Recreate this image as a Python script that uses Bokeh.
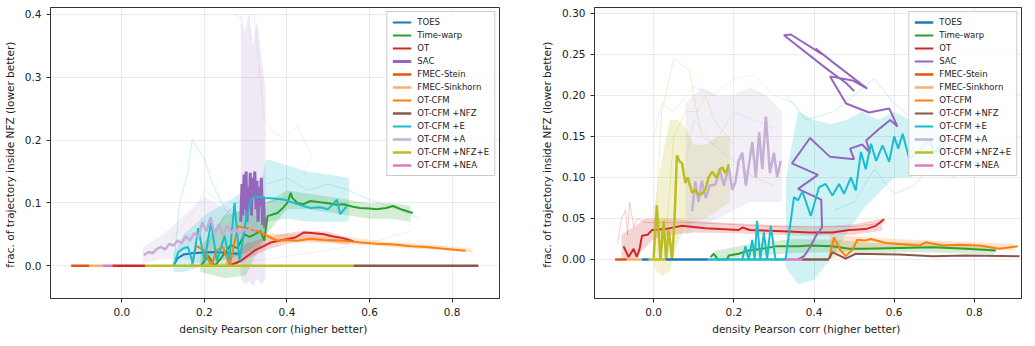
from bokeh.plotting import figure
from bokeh.layouts import row
from bokeh.models import Legend, LegendItem, FixedTicker, NumeralTickFormatter, Range1d
from bokeh.embed import file_html
from bokeh.resources import INLINE

# ---------------- series names / colours ----------------
methods = ["TOES", "Time-warp", "OT", "SAC", "FMEC-Stein", "FMEC-Sinkhorn", "OT-CFM",
           "OT-CFM +NFZ", "OT-CFM +E", "OT-CFM +A", "OT-CFM +NFZ+E", "OT-CFM +NEA"]
colors = {"TOES": "#1f77b4", "Time-warp": "#2ca02c", "OT": "#d62728", "SAC": "#9467bd",
          "FMEC-Stein": "#e6550d", "FMEC-Sinkhorn": "#fdae6b", "OT-CFM": "#ff7f0e",
          "OT-CFM +NFZ": "#8c564b", "OT-CFM +E": "#17becf", "OT-CFM +A": "#c5b0d5",
          "OT-CFM +NFZ+E": "#bcbd22", "OT-CFM +NEA": "#e377c2"}

x_ticks = [0.0, 0.2, 0.4, 0.6, 0.8]
left_y_ticks = [0.0, 0.1, 0.2, 0.3, 0.4]
right_y_ticks = [0.0, 0.05, 0.10, 0.15, 0.20, 0.25, 0.30]
x_label = "density Pearson corr  (higher better)"
y_label = "frac. of trajectory inside NFZ  (lower better)"

# ---------------- LEFT panel data ----------------
# zero-valued runs (start corr, end corr)
L_zero = {"FMEC-Stein": (-0.123, -0.079), "FMEC-Sinkhorn": (-0.079, -0.047),
          "OT-CFM +NEA": (-0.047, -0.023), "OT": (-0.023, 0.057),
          "OT-CFM +NFZ+E": (0.057, 0.561), "OT-CFM +NFZ": (0.561, 0.864)}

L_toes_x = [0.125, 0.135, 0.15, 0.17, 0.2, 0.23, 0.26, 0.281]
L_toes_y = [0.0, 0.012, 0.018, 0.020, 0.021, 0.022, 0.020, 0.019]

L_tw_x = [0.192, 0.209, 0.225, 0.24, 0.264, 0.28, 0.297, 0.31, 0.336, 0.345, 0.353, 0.377, 0.39,
          0.401, 0.409, 0.413, 0.425, 0.44, 0.457, 0.48, 0.497, 0.52, 0.537, 0.56, 0.577, 0.6,
          0.617, 0.64, 0.657, 0.68, 0.705]
L_tw_y = [0.0, 0.016, 0.0, 0.012, 0.033, 0.028, 0.05, 0.046, 0.055, 0.04, 0.079, 0.084, 0.092,
          0.100, 0.116, 0.108, 0.100, 0.098, 0.103, 0.101, 0.100, 0.097, 0.098, 0.094, 0.092, 0.091,
          0.090, 0.092, 0.095, 0.089, 0.084]

L_ot_x = [0.257, 0.275, 0.289, 0.305, 0.321, 0.34, 0.36, 0.39, 0.42, 0.441, 0.46, 0.489, 0.51, 0.535, 0.561]
L_ot_y = [0.0, 0.004, 0.008, 0.016, 0.024, 0.03, 0.037, 0.041, 0.045, 0.053, 0.052, 0.050, 0.047, 0.044, 0.039]

L_sac_x = [0.288, 0.291, 0.293, 0.296, 0.298, 0.301, 0.303, 0.306, 0.309, 0.311, 0.314, 0.317,
           0.319, 0.322, 0.325, 0.327, 0.330, 0.333, 0.335, 0.338, 0.341, 0.343, 0.346]
L_sac_y = [0.07, 0.13, 0.08, 0.145, 0.09, 0.15, 0.07, 0.125, 0.10, 0.148, 0.08, 0.14, 0.11, 0.15,
           0.09, 0.135, 0.07, 0.125, 0.095, 0.14, 0.065, 0.11, 0.06]

L_cfm_x = [0.169, 0.18, 0.19, 0.2, 0.216, 0.23, 0.245, 0.261, 0.281, 0.3, 0.329, 0.345, 0.36,
           0.377, 0.4, 0.425, 0.456, 0.49, 0.537, 0.58, 0.617, 0.66, 0.7, 0.737, 0.78, 0.833]
L_cfm_y = [0.0, 0.032, 0.028, 0.025, 0.0, 0.025, 0.03, 0.0, 0.063, 0.06, 0.055, 0.05, 0.045,
           0.040, 0.041, 0.040, 0.043, 0.041, 0.040, 0.037, 0.035, 0.034, 0.031, 0.030, 0.027, 0.024]

L_e_x = [0.125, 0.137, 0.15, 0.16, 0.172, 0.185, 0.2, 0.216, 0.23, 0.249, 0.26, 0.273, 0.285,
         0.3, 0.313, 0.321, 0.345, 0.37, 0.393, 0.417, 0.44, 0.457, 0.48, 0.5, 0.521, 0.529, 0.545]
L_e_y = [0.0, 0.022, 0.028, 0.03, 0.004, 0.06, 0.008, 0.069, 0.008, 0.048, 0.008, 0.10, 0.008,
         0.07, 0.105, 0.11, 0.108, 0.107, 0.105, 0.10, 0.095, 0.092, 0.093, 0.09, 0.105, 0.082, 0.095]

L_a_x = [0.053, 0.065, 0.075, 0.085, 0.095, 0.105, 0.115, 0.125, 0.135, 0.145, 0.155, 0.165, 0.175,
         0.185, 0.195, 0.205, 0.215, 0.225, 0.235, 0.245, 0.255, 0.265, 0.275, 0.285, 0.295, 0.305,
         0.315, 0.325]
L_a_y = [0.017, 0.022, 0.020, 0.027, 0.030, 0.026, 0.035, 0.032, 0.040, 0.036, 0.047, 0.040, 0.052,
         0.045, 0.069, 0.055, 0.077, 0.050, 0.066, 0.048, 0.065, 0.052, 0.060, 0.050, 0.058, 0.054,
         0.062, 0.057]

# bands (x, lower, upper)
L_bands = {
    "OT-CFM +A": ([0.05, 0.1, 0.15, 0.2, 0.25, 0.3, 0.35],
                  [0.005, 0.01, 0.012, 0.0, 0.01, 0.02, 0.03],
                  [0.03, 0.05, 0.08, 0.11, 0.09, 0.085, 0.075]),
    "SAC": ([0.288, 0.298, 0.308, 0.318, 0.328, 0.338, 0.348],
            [-0.02, -0.03, -0.025, -0.032, -0.02, -0.03, -0.02],
            [0.40, 0.37, 0.40, 0.35, 0.39, 0.33, 0.28]),
    "OT-CFM +E": ([0.125, 0.15, 0.2, 0.25, 0.3, 0.34, 0.35, 0.4, 0.45, 0.5, 0.55],
                  [-0.01, -0.01, 0.0, 0.01, 0.02, 0.04, 0.07, 0.075, 0.07, 0.07, 0.07],
                  [0.02, 0.05, 0.08, 0.10, 0.12, 0.14, 0.17, 0.16, 0.15, 0.145, 0.14]),
    "Time-warp": ([0.19, 0.25, 0.3, 0.35, 0.4, 0.45, 0.5, 0.55, 0.6, 0.65, 0.7],
                  [-0.01, -0.02, -0.015, 0.05, 0.09, 0.09, 0.085, 0.08, 0.075, 0.075, 0.07],
                  [0.03, 0.08, 0.09, 0.10, 0.12, 0.115, 0.11, 0.105, 0.10, 0.10, 0.095]),
    "OT": ([0.25, 0.3, 0.35, 0.4, 0.45, 0.5, 0.55],
           [0.0, 0.01, 0.025, 0.035, 0.04, 0.038, 0.033],
           [0.005, 0.035, 0.045, 0.052, 0.056, 0.054, 0.045]),
    "OT-CFM": ([0.35, 0.45, 0.55, 0.65, 0.75, 0.85],
               [0.04, 0.037, 0.035, 0.03, 0.026, 0.021],
               [0.052, 0.048, 0.045, 0.038, 0.034, 0.027]),
}

# faint individual runs
L_faint = [
    ("OT-CFM +A", [0.27, 0.29, 0.30, 0.32, 0.335, 0.345, 0.37, 0.393, 0.425, 0.449, 0.461, 0.441],
                  [0.40, 0.395, 0.39, 0.40, 0.30, 0.232, 0.21, 0.204, 0.222, 0.19, 0.174, 0.143]),
    ("OT-CFM +A", [0.2, 0.35, 0.5, 0.62, 0.7], [0.0, 0.01, 0.025, 0.04, 0.055]),
    ("OT-CFM +A", [0.1, 0.14, 0.18, 0.2, 0.24, 0.28, 0.3], [0.02, 0.06, 0.09, 0.12, 0.1, 0.08, 0.06]),
    ("OT-CFM +E", [0.125, 0.14, 0.16, 0.17, 0.2, 0.22, 0.25, 0.28],
                  [0.0, 0.1, 0.15, 0.2, 0.17, 0.13, 0.09, 0.07]),
    ("OT-CFM +E", [0.35, 0.4, 0.45, 0.5, 0.55, 0.6, 0.67, 0.72],
                  [0.13, 0.14, 0.12, 0.13, 0.12, 0.105, 0.09, 0.075]),
    ("Time-warp", [0.19, 0.22, 0.25, 0.3, 0.35, 0.4], [0.0, 0.05, 0.08, 0.115, 0.10, 0.11]),
]

# ---------------- RIGHT panel data ----------------
R_zero = {"FMEC-Stein": (-0.096, -0.067), "FMEC-Sinkhorn": (-0.067, -0.029),
          "TOES": (-0.029, -0.012), "OT-CFM +NFZ+E": (-0.012, 0.03),
          "TOES ": (0.03, 0.137), "OT-CFM +E": (0.137, 0.33),
          "OT-CFM +NEA": (0.33, 0.371), "OT-CFM +NFZ": (0.371, 0.4375)}

R_tw_x = [0.142, 0.15, 0.16, 0.183, 0.1875, 0.2125, 0.2375, 0.271, 0.304, 0.3625, 0.3875, 0.446,
          0.4875, 0.53, 0.6125, 0.696, 0.779, 0.854]
R_tw_y = [0.003, 0.007, 0.0, 0.0, 0.005, 0.007, 0.011, 0.013, 0.016, 0.016, 0.017, 0.016,
          0.013, 0.013, 0.014, 0.015, 0.013, 0.011]

R_ot_x = [-0.075, -0.0625, -0.05, -0.042, -0.035, -0.029, -0.015, -0.004, 0.029, 0.071, 0.129,
          0.2125, 0.221, 0.24, 0.3375, 0.3875, 0.446, 0.4875, 0.529, 0.554, 0.575]
R_ot_y = [0.016, 0.003, 0.013, 0.003, 0.013, 0.029, 0.030, 0.036, 0.037, 0.041, 0.038,
          0.036, 0.039, 0.036, 0.034, 0.033, 0.033, 0.036, 0.037, 0.041, 0.049]

R_sac_x = [0.36, 0.375, 0.39, 0.405, 0.42, 0.418, 0.36, 0.41, 0.345, 0.39, 0.44, 0.50, 0.49,
           0.52, 0.54, 0.53, 0.565, 0.59, 0.608, 0.5875, 0.5375, 0.48, 0.44, 0.496, 0.533,
           0.445, 0.404, 0.42, 0.342, 0.325, 0.4375, 0.48, 0.50]
R_sac_y = [0.0, 0.004, 0.015, 0.029, 0.039, 0.073, 0.086, 0.103, 0.117, 0.148, 0.125, 0.122,
           0.135, 0.14, 0.13, 0.145, 0.16, 0.17, 0.162, 0.184, 0.179, 0.19, 0.223, 0.218, 0.208,
           0.241, 0.257, 0.25, 0.274, 0.273, 0.23, 0.215, 0.205]

R_cfm_x = [0.4375, 0.45, 0.465, 0.479, 0.496, 0.508, 0.525, 0.542, 0.579, 0.6125, 0.6625, 0.679,
           0.721, 0.76, 0.8125, 0.8625, 0.908]
R_cfm_y = [0.001, 0.027, 0.012, 0.004, 0.012, 0.024, 0.023, 0.025, 0.020, 0.019, 0.017, 0.021,
           0.017, 0.018, 0.017, 0.013, 0.016]

R_nfz_x = [0.4375, 0.446, 0.479, 0.504, 0.6125, 0.696, 0.779, 0.9125]
R_nfz_y = [0.001, 0.009, 0.001, 0.007, 0.006, 0.004, 0.005, 0.004]

R_e_x = [0.221, 0.229, 0.237, 0.246, 0.252, 0.258, 0.266, 0.275, 0.283, 0.292, 0.304, 0.329,
         0.35, 0.36, 0.371, 0.392, 0.4125, 0.429, 0.446, 0.4625, 0.475, 0.492, 0.504, 0.517,
         0.529, 0.542, 0.555, 0.571, 0.5875, 0.6, 0.61, 0.621, 0.6375, 0.6625, 0.675, 0.6875,
         0.70, 0.715, 0.73]
R_e_y = [0.0, 0.016, 0.0, 0.024, 0.0, 0.047, 0.0, 0.033, 0.0, 0.041, 0.0, 0.0,
         0.076, 0.072, 0.083, 0.053, 0.088, 0.092, 0.078, 0.092, 0.08, 0.10, 0.084, 0.131,
         0.11, 0.141, 0.12, 0.139, 0.119, 0.15, 0.135, 0.153, 0.123, 0.131, 0.14, 0.146,
         0.13, 0.138, 0.142]

R_a_x = [0.096, 0.104, 0.112, 0.12, 0.13, 0.14, 0.154, 0.165, 0.175, 0.1875, 0.196, 0.204, 0.212,
         0.221, 0.23, 0.246, 0.255, 0.263, 0.271, 0.28, 0.29, 0.30, 0.308, 0.317]
R_a_y = [0.059, 0.095, 0.07, 0.096, 0.075, 0.09, 0.091, 0.11, 0.09, 0.112, 0.085, 0.094, 0.12,
         0.13, 0.09, 0.143, 0.1, 0.155, 0.11, 0.174, 0.105, 0.13, 0.10, 0.12]

R_nfze_x = [0.0, 0.008, 0.017, 0.025, 0.031, 0.0375, 0.046, 0.052, 0.058, 0.064, 0.071, 0.079,
            0.085, 0.096, 0.104, 0.1125, 0.12, 0.129, 0.137, 0.146, 0.158, 0.165, 0.171, 0.18, 0.1875]
R_nfze_y = [0.002, 0.066, 0.0, 0.047, 0.0, 0.036, 0.0, 0.047, 0.127, 0.12, 0.117, 0.093,
            0.1, 0.081, 0.085, 0.078, 0.08, 0.085, 0.1, 0.107, 0.099, 0.11, 0.112, 0.105, 0.116]

R_bands = {
    "OT": ([-0.08, -0.05, -0.02, 0.0, 0.05, 0.1, 0.2, 0.3, 0.4, 0.5, 0.57],
           [0.0, 0.0, 0.015, 0.025, 0.03, 0.033, 0.032, 0.03, 0.029, 0.03, 0.035],
           [0.03, 0.04, 0.05, 0.05, 0.05, 0.047, 0.044, 0.042, 0.04, 0.043, 0.05]),
    "OT-CFM +NFZ+E": ([0.0, 0.02, 0.04, 0.06, 0.08, 0.1, 0.13, 0.16, 0.19],
                      [-0.01, -0.02, -0.015, 0.02, 0.04, 0.045, 0.05, 0.06, 0.07],
                      [0.06, 0.12, 0.17, 0.17, 0.16, 0.14, 0.14, 0.15, 0.15]),
    "OT-CFM +A": ([0.08, 0.12, 0.16, 0.2, 0.24, 0.28, 0.32],
                  [0.03, 0.04, 0.05, 0.06, 0.07, 0.07, 0.07],
                  [0.19, 0.21, 0.20, 0.20, 0.21, 0.20, 0.18]),
    "OT-CFM +E": ([0.33, 0.36, 0.4, 0.44, 0.48, 0.52, 0.56, 0.6, 0.64, 0.68, 0.72],
                  [-0.01, -0.03, -0.025, 0.0, 0.03, 0.06, 0.08, 0.10, 0.10, 0.11, 0.11],
                  [0.10, 0.18, 0.17, 0.165, 0.17, 0.18, 0.17, 0.18, 0.17, 0.165, 0.16]),
    "Time-warp": ([0.15, 0.25, 0.35, 0.45, 0.55, 0.65, 0.75, 0.85],
                  [0.0, 0.004, 0.008, 0.009, 0.008, 0.009, 0.008, 0.006],
                  [0.01, 0.02, 0.025, 0.024, 0.02, 0.021, 0.019, 0.016]),
    "OT-CFM": ([0.44, 0.5, 0.6, 0.7, 0.8, 0.9],
               [0.0, 0.012, 0.015, 0.014, 0.013, 0.011],
               [0.03, 0.028, 0.025, 0.023, 0.021, 0.019]),
}

R_faint = [
    ("OT", [-0.09, -0.08, -0.07, -0.065, -0.06, -0.05, -0.04, -0.02, 0.1, 0.3, 0.5, 0.58],
           [0.02, 0.05, 0.06, 0.03, 0.07, 0.04, 0.05, 0.045, 0.045, 0.04, 0.04, 0.045]),
    ("OT-CFM +NFZ+E", [0.0, 0.02, 0.03, 0.05, 0.09, 0.1, 0.12, 0.15, 0.2, 0.25, 0.3],
                      [0.0, 0.18, 0.2, 0.245, 0.23, 0.2, 0.15, 0.14, 0.12, 0.10, 0.09]),
    ("OT-CFM +NFZ+E", [0.03, 0.05, 0.08, 0.11, 0.13, 0.15, 0.2],
                      [0.02, 0.15, 0.18, 0.18, 0.2, 0.17, 0.14]),
    ("OT-CFM +A", [0.0, 0.02, 0.05, 0.1, 0.15, 0.2, 0.25, 0.3, 0.35, 0.4],
                  [0.15, 0.19, 0.18, 0.21, 0.20, 0.22, 0.225, 0.20, 0.19, 0.16]),
    ("OT-CFM +A", [0.08, 0.1, 0.15, 0.2, 0.25, 0.3], [0.12, 0.17, 0.14, 0.18, 0.17, 0.16]),
    ("OT-CFM +E", [0.33, 0.38, 0.45, 0.5, 0.55, 0.6, 0.65, 0.7, 0.75],
                  [0.20, 0.17, 0.18, 0.20, 0.22, 0.19, 0.17, 0.15, 0.14]),
    ("OT-CFM +E", [0.45, 0.5, 0.55, 0.6, 0.65, 0.7, 0.75, 0.8],
                  [0.06, 0.07, 0.11, 0.08, 0.09, 0.12, 0.10, 0.14]),
]

FONT = "DejaVu Sans"


def make_fig(width, border_left, border_right, xr, yr, yticks, yfmt):
    p = figure(width=width, height=337, output_backend="svg", toolbar_location=None,
               x_range=Range1d(*xr), y_range=Range1d(*yr),
               min_border_left=border_left, min_border_right=border_right,
               min_border_top=7, min_border_bottom=38)
    p.xaxis.ticker = FixedTicker(ticks=x_ticks)
    p.yaxis.ticker = FixedTicker(ticks=yticks)
    p.xaxis.formatter = NumeralTickFormatter(format="0.0")
    p.yaxis.formatter = NumeralTickFormatter(format=yfmt)
    for ax in (p.xaxis[0], p.yaxis[0]):
        ax.axis_line_color = "#333333"
        ax.major_tick_line_color = "#333333"
        ax.major_tick_out = 4
        ax.major_tick_in = 0
        ax.minor_tick_line_color = None
        ax.major_label_text_font = FONT
        ax.major_label_text_font_size = "10.5px"
        ax.major_label_text_color = "#222222"
        ax.axis_label_text_font = FONT
        ax.axis_label_text_font_size = "10.5px"
        ax.axis_label_text_font_style = "normal"
        ax.axis_label_text_color = "#222222"
    p.xaxis.axis_label = x_label
    p.yaxis.axis_label = y_label
    p.xaxis.axis_label_standoff = 4
    p.yaxis.axis_label_standoff = 6
    p.outline_line_color = "#333333"
    p.outline_line_width = 1
    p.grid.grid_line_color = "#b0b0b0"
    p.grid.grid_line_alpha = 0.3
    p.grid.grid_line_width = 0.8
    p.background_fill_color = "white"
    return p


def draw(p, bands, faint, zero_runs, mains):
    for name, (bx, lo, hi) in bands.items():
        a = 0.15 if name == "SAC" else 0.2
        p.varea(x=bx, y1=lo, y2=hi, fill_color=colors[name], fill_alpha=a)
    for name, fx, fy in faint:
        p.line(fx, fy, line_color=colors[name], line_alpha=0.3, line_width=0.8)
    rend = {}
    for name in methods:
        if name in mains:
            mx, my, lw = mains[name]
            rend[name] = p.line(mx, my, line_color=colors[name], line_width=lw)
    for key, (a, b) in zero_runs.items():
        name = key.strip()
        r = p.line([a, b], [0.0, 0.0], line_color=colors[name], line_width=2.5)
        rend.setdefault(name, r)
    items = [LegendItem(label=m, renderers=[rend[m]]) for m in methods if m in rend]
    leg = Legend(items=items, location="top_right", label_text_font=FONT,
                 label_text_font_size="8.5px", label_text_color="#222222",
                 glyph_width=19, glyph_height=10, label_height=10, spacing=3,
                 padding=5, margin=4, label_standoff=6,
                 border_line_color="#cccccc", border_line_alpha=1.0,
                 background_fill_alpha=0.85)
    p.add_layout(leg)


p1 = make_fig(518, 46, 19, (-0.173, 0.915), (-0.052, 0.4107), left_y_ticks, "0.0")
draw(p1, L_bands, L_faint, L_zero, {
    "TOES": (L_toes_x, L_toes_y, 2),
    "Time-warp": (L_tw_x, L_tw_y, 2),
    "OT": (L_ot_x, L_ot_y, 2),
    "SAC": (L_sac_x, L_sac_y, 3),
    "OT-CFM": (L_cfm_x, L_cfm_y, 2),
    "OT-CFM +E": (L_e_x, L_e_y, 2),
    "OT-CFM +A": (L_a_x, L_a_y, 2.5),
})

p2 = make_fig(508, 76, 5, (-0.1475, 0.9175), (-0.0475, 0.3069), right_y_ticks, "0.00")
draw(p2, R_bands, R_faint, R_zero, {
    "Time-warp": (R_tw_x, R_tw_y, 2),
    "OT": (R_ot_x, R_ot_y, 2),
    "SAC": (R_sac_x, R_sac_y, 2),
    "OT-CFM": (R_cfm_x, R_cfm_y, 2),
    "OT-CFM +NFZ": (R_nfz_x, R_nfz_y, 2),
    "OT-CFM +E": (R_e_x, R_e_y, 2),
    "OT-CFM +A": (R_a_x, R_a_y, 2.5),
    "OT-CFM +NFZ+E": (R_nfze_x, R_nfze_y, 2.5),
})

layout = row(p1, p2)
open("out.html", "w").write(file_html(layout, INLINE))
